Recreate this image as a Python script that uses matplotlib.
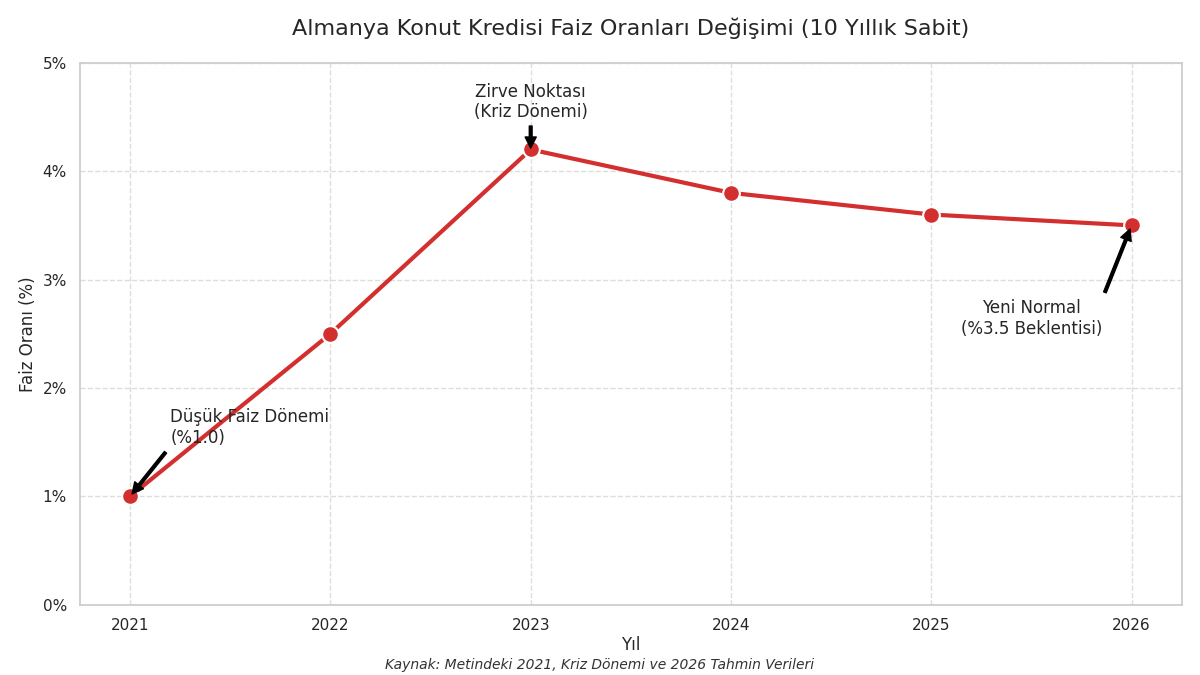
import matplotlib
matplotlib.use("Agg")
import matplotlib.pyplot as plt
import seaborn as sns
from matplotlib.ticker import FuncFormatter

years = [2021, 2022, 2023, 2024, 2025, 2026]
rates = [1.0, 2.5, 4.2, 3.8, 3.6, 3.5]

sns.set_theme(style="whitegrid")
plt.rcParams['font.family'] = ['DejaVu Sans']

fig = plt.figure(figsize=(12, 6.75), dpi=100)
ax = fig.add_axes([0.0667, 0.104, 0.918, 0.803])
ax.plot(years, rates, color="#d32f2f", lw=3, marker="o", markersize=12,
        markeredgecolor="white", markeredgewidth=1.5, zorder=3)
ax.set_ylim(0, 5)
ax.set_xlim(2020.75, 2026.25)
ax.set_xticks(years)
ax.yaxis.set_major_formatter(FuncFormatter(lambda v, p: f"{v:.0f}%"))
ax.grid(True, linestyle="--", color="#dddddd")
for s in ax.spines.values():
    s.set_color("#cccccc")
ax.tick_params(labelsize=11)
ax.set_xlabel("Yıl", fontsize=12, labelpad=2)
ax.set_ylabel("Faiz Oranı (%)", fontsize=12)
ax.set_title("Almanya Konut Kredisi Faiz Oranları Değişimi (10 Yıllık Sabit)", fontsize=16, pad=20)

ap = dict(facecolor="black", edgecolor="black", width=2, headwidth=8, headlength=8, shrink=0.05)
ax.annotate("Düşük Faiz Dönemi\n(%1.0)", xy=(years[0], rates[0]), xytext=(2021.2, 1.46),
            fontsize=12, ha="left", va="bottom", arrowprops=ap)
ax.annotate("Zirve Noktası\n(Kriz Dönemi)", xy=(years[2], rates[2]), xytext=(2023, 4.46),
            fontsize=12, ha="center", va="bottom", arrowprops=ap)
ax.annotate("Yeni Normal\n(%3.5 Beklentisi)", xy=(years[5], rates[5]), xytext=(2025.5, 2.46),
            fontsize=12, ha="center", va="bottom", arrowprops=ap)

fig.text(0.5, 0.009, "Kaynak: Metindeki 2021, Kriz Dönemi ve 2026 Tahmin Verileri",
         ha="center", fontsize=10, style="italic", color="#333333")
fig.savefig("out.png", dpi=100)
